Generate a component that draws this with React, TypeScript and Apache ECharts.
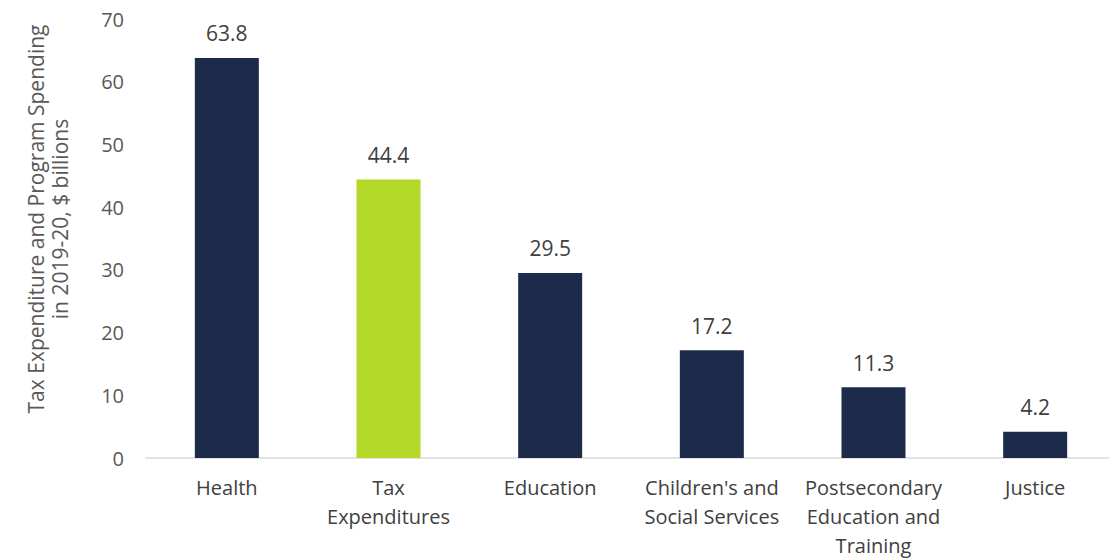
import React, { useEffect, useRef } from "react";
import * as echarts from "echarts";

const categories = [
  "Health",
  "Tax\nExpenditures",
  "Education",
  "Children's and\nSocial Services",
  "Postsecondary\nEducation and\nTraining",
  "Justice",
];
const values = [63.8, 44.4, 29.5, 17.2, 11.3, 4.2];
const highlightIndex = 1;
const yTicks = { min: 0, max: 70, interval: 10 };
const yTitle = "Tax Expenditure and Program Spending\nin 2019-20, $ billions";

const NAVY = "#1c2b4a";
const GREEN = "#b5d929";
const FONT = "Open Sans";

export default function App() {
  const ref = useRef<HTMLDivElement>(null);
  useEffect(() => {
    const chart = echarts.init(ref.current!, null, { renderer: "svg" });
    chart.setOption({
      animation: false,
      textStyle: { fontFamily: FONT },
      grid: { left: 146, top: 19, width: 970, height: 440, containLabel: false },
      xAxis: {
        type: "category",
        data: categories,
        axisLine: { lineStyle: { color: "#d9d9d9", width: 1.5 } },
        axisTick: { show: false },
        axisLabel: {
          color: "#404040",
          fontSize: 20,
          fontFamily: FONT,
          lineHeight: 29,
          margin: 15,
          interval: 0,
        },
      },
      yAxis: {
        type: "value",
        min: yTicks.min,
        max: yTicks.max,
        interval: yTicks.interval,
        splitLine: { show: false },
        axisLine: { show: false },
        axisTick: { show: false },
        axisLabel: { color: "#595959", fontSize: 20, fontFamily: FONT, margin: 22 },
      },
      graphic: [
        {
          type: "text",
          x: 48,
          y: 219,
          rotation: Math.PI / 2,
          style: {
            text: yTitle,
            fill: "#595959",
            fontSize: 21,
            fontFamily: FONT,
            lineHeight: 24,
            align: "center",
            verticalAlign: "middle",
          },
        },
      ],
      series: [
        {
          type: "bar",
          barWidth: 64,
          data: values.map((v, i) => ({
            value: v,
            itemStyle: { color: i === highlightIndex ? GREEN : NAVY },
          })),
          label: {
            show: true,
            position: "top",
            distance: 14,
            color: "#404040",
            fontSize: 21,
            fontFamily: FONT,
            formatter: (p: any) => p.value.toFixed(1),
          },
        },
      ],
    });
    return () => chart.dispose();
  }, []);
  return (
    <div
      style={{
        position: "fixed",
        left: 0,
        top: 0,
        width: 1109,
        height: 560,
        overflow: "hidden",
        background: "#fff",
      }}
    >
      <div ref={ref} style={{ width: 1130, height: 560 }} />
    </div>
  );
}
